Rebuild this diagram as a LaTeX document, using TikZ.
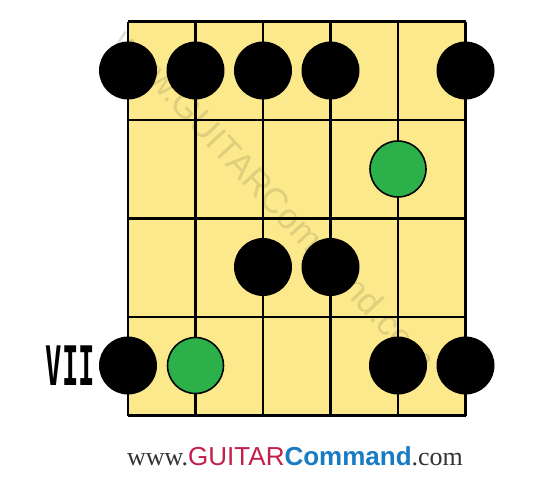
\documentclass[tikz,border=0pt]{standalone}
\usepackage{fontspec}
\usetikzlibrary{positioning}
\setmainfont{Liberation Serif}
\newfontfamily\logosans{Liberation Sans}
\newfontfamily\fretfont{DejaVu Sans Mono}
\definecolor{board}{HTML}{FCE98C}
\definecolor{rootgreen}{HTML}{2BB04A}
\definecolor{logored}{HTML}{C2204B}
\definecolor{logoblue}{HTML}{1A7BC5}
\definecolor{logogrey}{HTML}{333333}
\tikzset{
  note/.style={circle,fill=black,minimum size=1.16cm,inner sep=0pt},
  root/.style={circle,fill=rootgreen,draw=black,line width=0.9pt,minimum size=1.12cm,inner sep=0pt},
  fretline/.style={line width=1.6pt,black}
}
\begin{document}
\begin{tikzpicture}[x=0.02cm,y=-0.02cm]
\useasboundingbox[fill=white] (0,0) rectangle (550,477);

% board
\fill[board] (128,21.5) rectangle (465.5,415.5);

% watermark
\node (mark) [rotate=-47,text=black!45!board,opacity=0.25,font=\logosans\fontsize{20}{20}\selectfont]
  at (275,200) {www.GUITARCommand.com};

% strings and frets
\foreach \s in {0,...,5}
    \draw[fretline] (128+67.5*\s,21.5) -- (128+67.5*\s,415.5);
\foreach \f in {0,...,4}
    \draw[fretline] (128,21.5+98.5*\f) -- (465.5,21.5+98.5*\f);

% notes, fret 1
\node (n11) [note] at (128,70.5) {};
\node (n12) [note] at (195.5,70.5) {};
\node (n13) [note] at (263,70.5) {};
\node (n14) [note] at (330.5,70.5) {};
\node (n16) [note] at (465.5,70.5) {};
% fret 2
\node (r25) [root] at (398,169) {};
% fret 3
\node (n33) [note] at (263,267) {};
\node (n34) [note] at (330.5,267) {};
% fret 4
\node (n41) [note] at (128,365.5) {};
\node (r42) [root] at (195.5,365.5) {};
\node (n45) [note] at (398,365.5) {};
\node (n46) [note] at (465.5,365.5) {};

% position label
\node (pos) [left=2pt of n41,xscale=0.5,font=\fretfont\bfseries\fontsize{31}{31}\selectfont,inner sep=0pt]
  {VII};

% footer
\node (site) [font=\fontsize{14.8}{15}\selectfont] at (295,456)
  {\textcolor{logogrey}{www.}{\logosans\textcolor{logored}{GUITAR}\textcolor{logoblue}{\bfseries Command}}\textcolor{logogrey}{.com}};

\end{tikzpicture}
\end{document}
